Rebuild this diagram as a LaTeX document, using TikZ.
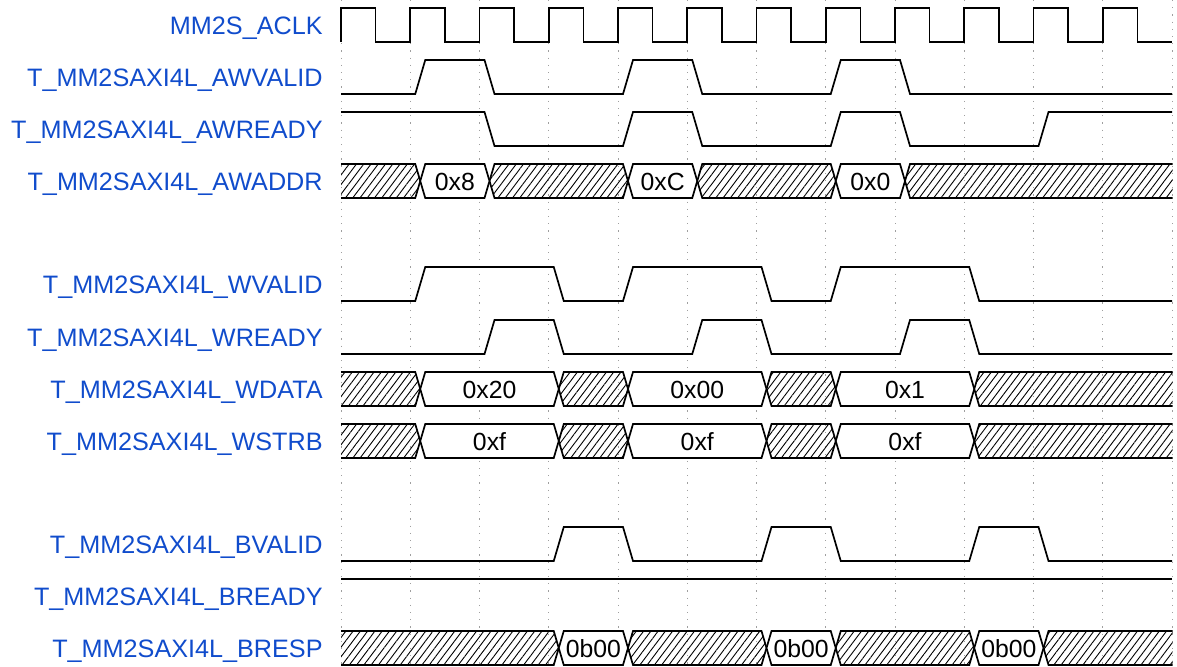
\documentclass[tikz,border=0pt]{standalone}
\usepackage{fontspec}
\setmainfont{Liberation Sans}
\usetikzlibrary{patterns.meta}
\definecolor{sigBlue}{RGB}{16,76,204}

% x position of clock edge number #1
\newcommand\ed[1]{(341+69.25*(#1))}

\tikzset{
  sig/.style={line width=0.85pt, line join=miter},
  grid/.style={gray!75, line width=0.5pt, dash pattern=on 0.6pt off 3pt},
  lbl/.style={anchor=base east, inner sep=0pt, text=sigBlue, font=\fontsize{12.6}{14}\selectfont},
  val/.style={anchor=base, inner sep=0pt, font=\fontsize{12.4}{14}\selectfont},
  hatch/.style={pattern={Lines[angle=53,distance=2.9pt,line width=0.45pt]}},
}

% bus segments: top y, first edge, last edge (, text)
\newcommand\hatchseg[3]{%
  \draw[sig, hatch] ({\ed{#2}+10},#1+17) -- ({\ed{#2}+15},#1) -- ({\ed{#3}+5},#1)
    -- ({\ed{#3}+10},#1+17) -- ({\ed{#3}+5},#1+34) -- ({\ed{#2}+15},#1+34) -- cycle;}
\newcommand\valseg[4]{%
  \draw[sig, fill=white] ({\ed{#2}+10},#1+17) -- ({\ed{#2}+15},#1) -- ({\ed{#3}+5},#1)
    -- ({\ed{#3}+10},#1+17) -- ({\ed{#3}+5},#1+34) -- ({\ed{#2}+15},#1+34) -- cycle;
  \node[val] (v#1-#2) at ({(\ed{#2}+\ed{#3})/2+10},#1+26) {#4};}
% single-bit signal: high y, low y, rise/fall edge pairs
\newcommand\pulses[3]{%
  \draw[sig] (341,#2) \foreach \r/\f in {#3} {
    -- ({\ed{\r}+5},#2) -- ({\ed{\r}+15},#1) -- ({\ed{\f}+5},#1) -- ({\ed{\f}+15},#2) } -- (1172,#2);}

\begin{document}
\begin{tikzpicture}[x=0.5pt, y=-0.5pt]
  \useasboundingbox (0,0) rectangle (1177,666);

  \foreach \k in {0,...,12}
    \draw[grid] ({\ed{\k}},0) -- ({\ed{\k}},666);

  \foreach \y/\n/\t in {25/aclk/MM2S\_ACLK, 77/awvalid/T\_MM2SAXI4L\_AWVALID,
      129/awready/T\_MM2SAXI4L\_AWREADY, 181/awaddr/T\_MM2SAXI4L\_AWADDR,
      284/wvalid/T\_MM2SAXI4L\_WVALID, 337/wready/T\_MM2SAXI4L\_WREADY,
      389/wdata/T\_MM2SAXI4L\_WDATA, 441/wstrb/T\_MM2SAXI4L\_WSTRB,
      544/bvalid/T\_MM2SAXI4L\_BVALID, 596/bready/T\_MM2SAXI4L\_BREADY,
      648/bresp/T\_MM2SAXI4L\_BRESP}
    \node[lbl] (lbl-\n) at (323,\y+9) {\t};

  % clock
  \draw[sig] (341,42) \foreach \k in {0,...,11} {
    -- ({\ed{\k}},8) -- ({\ed{\k}+34.625},8) -- ({\ed{\k}+34.625},42) -- ({\ed{\k+1}},42) };

  % write address channel
  \pulses{60}{94}{1/2,4/5,7/8}
  \draw[sig] (341,112) -- ({\ed{2}+5},112) -- ({\ed{2}+15},146)
    \foreach \r/\f in {4/5,7/8} {
      -- ({\ed{\r}+5},146) -- ({\ed{\r}+15},112) -- ({\ed{\f}+5},112) -- ({\ed{\f}+15},146) }
    -- ({\ed{10}+5},146) -- ({\ed{10}+15},112) -- (1172,112);

  % write data channel
  \pulses{267}{301}{1/3,4/6,7/9}
  \pulses{320}{354}{2/3,5/6,8/9}

  % write response channel
  \pulses{527}{561}{3/4,6/7,9/10}
  \draw[sig] (341,579) -- (1172,579);

  \begin{scope}
    \clip (341,-10) rectangle (1172.5,676);
    \foreach \a/\b in {-1/1,2/4,5/7,8/13} \hatchseg{164}{\a}{\b};
    \foreach \a/\b/\t in {1/2/0x8,4/5/0xC,7/8/0x0} \valseg{164}{\a}{\b}{\t};
    \foreach \a/\b in {-1/1,3/4,6/7,9/13} {\hatchseg{372}{\a}{\b} \hatchseg{424}{\a}{\b}}
    \foreach \a/\b/\t in {1/3/0x20,4/6/0x00,7/9/0x1} \valseg{372}{\a}{\b}{\t};
    \foreach \a/\b in {1/3,4/6,7/9} \valseg{424}{\a}{\b}{0xf};
    \foreach \a/\b in {-1/3,4/6,7/9,10/13} \hatchseg{631}{\a}{\b};
    \foreach \a/\b in {3/4,6/7,9/10} \valseg{631}{\a}{\b}{0b00};
  \end{scope}
\end{tikzpicture}
\end{document}
